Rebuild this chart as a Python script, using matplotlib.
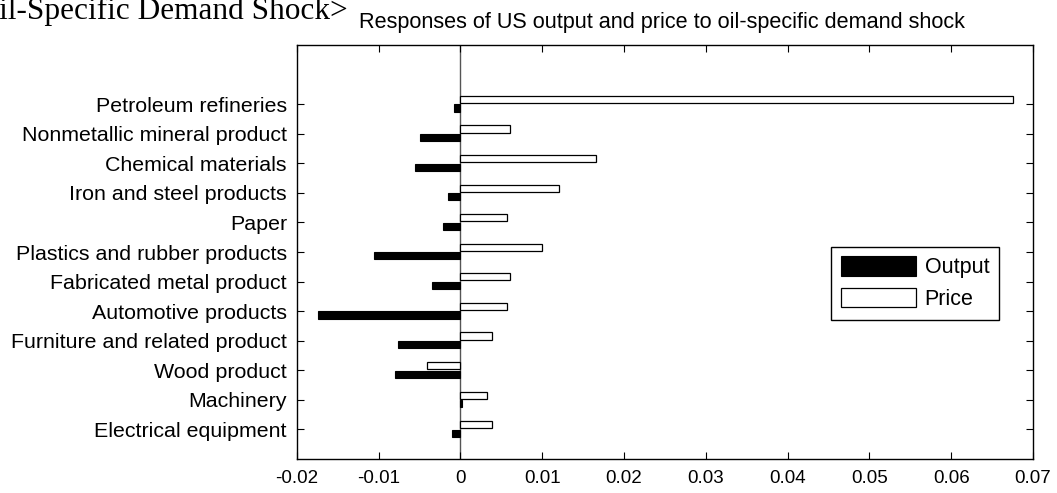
"""Responses of US output and price to an oil-specific demand shock."""

import matplotlib

matplotlib.use("Agg")
import matplotlib.pyplot as plt
import numpy as np

SANS = ["Liberation Sans", "DejaVu Sans"]
SERIF = ["Liberation Serif", "DejaVu Serif"]

# industries, listed bottom to top
industries = [
    "Electrical equipment",
    "Machinery",
    "Wood product",
    "Furniture and related product",
    "Automotive products",
    "Fabricated metal product",
    "Plastics and rubber products",
    "Paper",
    "Iron and steel products",
    "Chemical materials",
    "Nonmetallic mineral product",
    "Petroleum refineries",
]
output_resp = [-0.0010, 0.0002, -0.0080, -0.0076, -0.0174, -0.0035,
               -0.0106, -0.0021, -0.0015, -0.0055, -0.0049, -0.0008]
price_resp = [0.0039, 0.0033, -0.0041, 0.0039, 0.0057, 0.0061,
              0.0100, 0.0057, 0.0121, 0.0166, 0.0061, 0.0676]
x_ticks = [-0.02, -0.01, 0, 0.01, 0.02, 0.03, 0.04, 0.05, 0.06, 0.07]
x_tick_labels = ["-0.02", "-0.01", "0", "0.01", "0.02", "0.03",
                 "0.04", "0.05", "0.06", "0.07"]


def main() -> None:
    plt.rcParams["font.family"] = SANS
    W, H = 1057, 493
    fig = plt.figure(figsize=(W / 100, H / 100), dpi=100)
    ax = fig.add_axes([296.7 / W, 1 - 459 / H, (1033 - 296.7) / W, (459 - 45) / H])

    pos = np.arange(1, len(industries) + 1)
    ax.axvline(0, color="#555555", lw=1.0, zorder=1)
    ax.barh(pos - 0.13, output_resp, height=0.24, color="black",
            edgecolor="black", linewidth=0.8, label="Output", zorder=2)
    ax.barh(pos + 0.16, price_resp, height=0.24, color="white",
            edgecolor="black", linewidth=0.9, label="Price", zorder=2)

    ax.set_xlim(-0.02, 0.07)
    ax.set_ylim(0, 14)
    ax.set_xticks(x_ticks)
    ax.set_xticklabels(x_tick_labels, fontsize=13.5)
    ax.set_yticks(pos)
    ax.set_yticklabels(industries, fontsize=15.4)
    ax.tick_params(axis="both", direction="in", length=5, width=0.8,
                   top=True, right=True)
    ax.tick_params(axis="x", pad=8)
    ax.tick_params(axis="y", pad=7)
    for sp in ax.spines.values():
        sp.set_linewidth(1.0)

    leg = ax.legend(loc="upper right", bbox_to_anchor=(999 / W, 1 - 246.7 / H),
                    bbox_transform=fig.transFigure, fontsize=15.5,
                    handlelength=3.5, handleheight=1.0, handletextpad=0.4,
                    labelspacing=0.45, borderpad=0.45, borderaxespad=0,
                    fancybox=False, framealpha=1)
    leg.get_frame().set_edgecolor("black")
    leg.get_frame().set_linewidth(1.0)

    fig.text(662 / W, 1 - 28 / H,
             "Responses of US output and price to oil-specific demand shock",
             ha="center", va="baseline", fontsize=15.6)
    fig.text(348 / W, 1 - 19 / H, "<Oil-Specific Demand Shock>",
             ha="right", va="baseline", fontsize=22.5, family=SERIF)

    fig.savefig("out.png", dpi=100)


if __name__ == "__main__":
    main()
